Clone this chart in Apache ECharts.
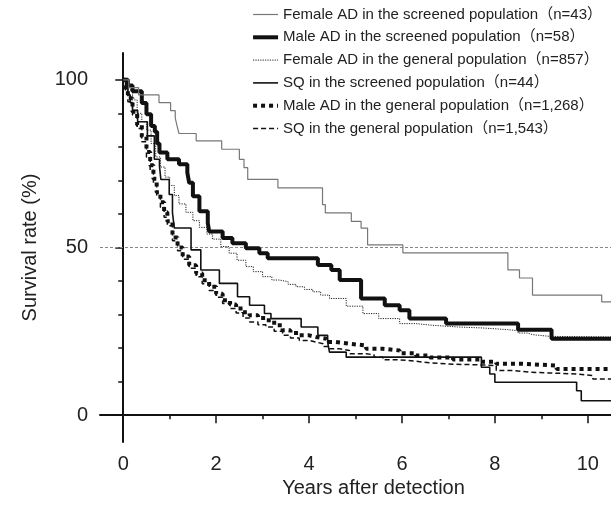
<!DOCTYPE html>
<html>
<head>
<meta charset="utf-8">
<script src="https://cdn.jsdelivr.net/npm/echarts@6/dist/echarts.min.js"></script>
<style>
html,body{margin:0;padding:0;background:#fff;}
#chart{width:611px;height:524px;}
</style>
</head>
<body>
<div id="chart"></div>
<script>
// ---- Data (years after detection, survival %) ----
const seriesNames = [
  'Female AD in the screened population（n=43）',
  'Male AD in the screened population（n=58）',
  'Female AD in the general population（n=857）',
  'SQ in the screened population（n=44）',
  'Male AD in the general population（n=1,268）',
  'SQ in the general population（n=1,543）'
];

const femaleADScreened = [[0,100],[0.12,97.7],[0.33,95.5],[0.77,93.2],[1.02,90.8],[1.12,88.6],[1.16,86.2],[1.2,84.0],[1.57,81.8],[2.12,79.3],[2.5,76.3],[2.6,73.8],[2.68,70.3],[3.33,67.8],[4.29,62.8],[4.35,60.3],[4.91,57.8],[5.12,55.8],[5.26,50.8],[6.02,48.4],[8.28,43.3],[8.53,40.9],[8.81,35.8],[10.3,33.8],[10.6,33.8]];

const maleADScreened = [[0,100],[0.1,98.3],[0.2,96.6],[0.4,93.1],[0.5,89.7],[0.6,86.2],[0.68,84.5],[0.73,81.0],[0.78,78.3],[0.95,76.3],[1.2,74.8],[1.38,72.3],[1.42,69.3],[1.5,65.3],[1.64,60.8],[1.82,57.3],[1.85,54.8],[2.14,52.8],[2.35,51.3],[2.64,49.8],[2.93,48.3],[3.11,46.8],[4.19,44.8],[4.48,43.3],[4.66,40.3],[5.12,34.8],[5.63,32.8],[5.95,31.3],[6.16,28.8],[6.95,27.3],[8.5,25.5],[9.22,22.8],[10.6,22.8]];

const femaleADGeneral = [[0,100],[0.1,97],[0.2,94],[0.3,90],[0.4,87.5],[0.5,85],[0.6,81],[0.7,77],[0.8,74],[0.9,71],[1.0,68.5],[1.1,65.5],[1.2,63],[1.35,60.5],[1.5,58],[1.64,56],[1.8,54],[1.92,52.5],[2.1,50.3],[2.28,48.3],[2.45,46.2],[2.64,44.3],[2.8,42.8],[3.0,41.3],[3.2,40.3],[3.36,39.8],[3.55,39],[3.72,38.3],[3.9,37.5],[4.08,36.8],[4.25,35.8],[4.44,34.8],[4.8,32.5],[5.16,30.3],[5.5,28.8],[5.95,27.3],[6.3,26.8],[6.66,26.3],[7.2,26.0],[7.74,25.5],[8.28,25.2],[8.5,24.5],[8.7,24.0],[8.82,23.5],[9.18,23.3],[10.6,23.3]];

const sqScreened = [[0,100],[0.05,97.7],[0.1,95.5],[0.15,93.2],[0.2,90.9],[0.31,87.5],[0.52,83.3],[0.67,76.3],[0.78,74.3],[0.81,70.3],[0.99,65.8],[1.06,60.3],[1.1,55.8],[1.46,49.3],[1.67,43.3],[2.07,39.3],[2.46,35.3],[2.72,32.8],[3.04,30.3],[3.18,28.8],[3.83,26.3],[4.19,23.8],[4.4,21.8],[4.44,18.8],[4.8,17.3],[7.71,14.3],[7.89,12.3],[8.0,9.8],[9.76,7.3],[9.86,4.3],[10.6,4.3]];

const maleADGeneral = [[0,100],[0.05,97],[0.1,94.5],[0.2,90.5],[0.3,86.5],[0.4,83],[0.5,78.5],[0.58,74.5],[0.65,70.5],[0.72,66.5],[0.8,63.5],[0.88,60.5],[0.95,57.8],[1.06,53],[1.17,50],[1.28,47.3],[1.42,44.7],[1.57,42.3],[1.7,40.2],[1.85,38.3],[2.0,36.2],[2.14,34.3],[2.3,33],[2.43,31.8],[2.58,30.7],[2.72,29.8],[2.9,29],[3.07,28.3],[3.25,26.8],[3.43,25.3],[3.6,24.5],[3.79,23.8],[4.0,23.3],[4.15,22.8],[4.37,21.8],[4.58,21.3],[4.87,20.8],[5.23,19.8],[5.59,19.3],[5.95,18.5],[6.3,17.8],[6.6,17.2],[7.1,16.6],[7.67,15.9],[8.03,15.3],[8.6,14.8],[9.33,13.8],[10.6,13.6]];

const sqGeneral = [[0,100],[0.05,96.5],[0.1,93.5],[0.2,89.5],[0.3,85.5],[0.4,81.5],[0.5,77],[0.58,73],[0.65,69],[0.72,65.5],[0.8,62],[0.88,59],[0.95,56.5],[1.06,52],[1.17,49],[1.28,46.5],[1.42,43.8],[1.57,41.3],[1.7,39.2],[1.85,37.2],[2.0,35.2],[2.14,33.3],[2.3,31.8],[2.43,30.5],[2.58,29],[2.72,27.8],[2.9,27],[3.07,26.3],[3.25,25],[3.43,23.8],[3.6,23],[3.79,22.3],[4.0,21.8],[4.15,21.3],[4.3,20.5],[4.44,19.8],[4.66,19.3],[4.87,18.3],[5.23,18.0],[5.4,17.3],[5.59,16.5],[5.95,16.1],[6.3,15.6],[6.59,15.2],[7.1,15.0],[7.67,14.8],[8.03,13.3],[8.4,12.8],[8.75,12.3],[9.76,11.8],[10.11,10.8],[10.6,10.8]];

const xMajorTicks = [0, 2, 4, 6, 8, 10];
const xMinorTicks = [0, 1, 2, 3, 4, 5, 6, 7, 8, 9, 10];
const yMajorTicks = [0, 50, 100];
const yMinorTicks = [0, 10, 20, 30, 40, 50, 60, 70, 80, 90, 100];
const refLevel = 50;

// ---- Chart ----
const FONT = "'Liberation Sans', Arial, 'Noto Sans CJK JP', sans-serif";
const chart = echarts.init(document.getElementById('chart'), null, {renderer: 'canvas'});

const styles = [
  {color: '#777777', width: 1.2, type: 'solid'},
  {color: '#111111', width: 4, type: 'solid'},
  {color: '#222222', width: 1, type: [1.2, 1.2]},
  {color: '#111111', width: 1.6, type: 'solid'},
  {color: '#111111', width: 4, type: [4, 4]},
  {color: '#111111', width: 1.5, type: [5, 3]}
];
const datasets = [femaleADScreened, maleADScreened, femaleADGeneral, sqScreened, maleADGeneral, sqGeneral];

const series = datasets.map((d, i) => ({
  name: seriesNames[i],
  type: 'line',
  step: 'end',
  data: d,
  symbol: 'none',
  showSymbol: false,
  animation: false,
  xAxisIndex: 0,
  yAxisIndex: 0,
  lineStyle: {color: styles[i].color, width: styles[i].width, type: styles[i].type, cap: 'butt'},
  itemStyle: {color: styles[i].color},
  z: 10 - i
}));
series[0].markLine = {
  silent: true,
  symbol: 'none',
  label: {show: false},
  lineStyle: {color: '#888', width: 1, type: [3, 2]},
  data: [{yAxis: refLevel}]
};

const axisCommon = {
  type: 'value',
  splitLine: {show: false},
  animation: false
};

chart.setOption({
  animation: false,
  textStyle: {fontFamily: FONT},
  grid: {left: 100, right: 0, top: 53, bottom: 82, containLabel: false},
  legend: {
    orient: 'vertical',
    right: 4,
    top: 1,
    itemWidth: 25,
    itemHeight: 17,
    itemGap: 5.8,
    itemStyle: {opacity: 0},
    lineStyle: {width: 'inherit', type: 'inherit', color: 'inherit'},
    textStyle: {fontFamily: FONT, fontSize: 15, color: '#222', lineHeight: 17},
    data: seriesNames
  },
  xAxis: [
    Object.assign({}, axisCommon, {
      min: -0.5, max: 10.5,
      position: 'bottom',
      axisLine: {show: true, lineStyle: {color: '#111', width: 2}},
      axisTick: {show: true, customValues: xMinorTicks, length: 4, lineStyle: {color: '#111', width: 1.5}},
      axisLabel: {customValues: xMajorTicks, fontSize: 20, color: '#222', margin: 12, fontFamily: FONT},
      name: 'Years after detection',
      nameLocation: 'middle',
      nameGap: 36,
      nameTextStyle: {fontSize: 20, color: '#222', fontFamily: FONT, padding: [0, 0, 0, 36]}
    }),
    Object.assign({}, axisCommon, {
      min: -0.5, max: 10.5,
      position: 'bottom',
      axisLine: {show: false},
      axisTick: {show: true, customValues: xMajorTicks, length: 8, lineStyle: {color: '#111', width: 1.5}},
      axisLabel: {show: false}
    })
  ],
  yAxis: [
    Object.assign({}, axisCommon, {
      min: -8, max: 108,
      position: 'left',
      axisLine: {show: true, lineStyle: {color: '#111', width: 2}},
      axisTick: {show: true, customValues: yMinorTicks, length: 5, lineStyle: {color: '#111', width: 1.5}},
      axisLabel: {customValues: yMajorTicks, fontSize: 20, color: '#222', margin: 12, fontFamily: FONT},
      name: 'Survival rate (%)',
      nameLocation: 'middle',
      nameGap: 60,
      nameRotate: 90,
      nameTextStyle: {fontSize: 20, color: '#222', fontFamily: FONT}
    }),
    Object.assign({}, axisCommon, {
      min: -8, max: 108,
      position: 'left',
      axisLine: {show: false},
      axisTick: {show: true, customValues: yMajorTicks, length: 8, lineStyle: {color: '#111', width: 1.5}},
      axisLabel: {show: false}
    })
  ],
  series: series
});
</script>
</body>
</html>
